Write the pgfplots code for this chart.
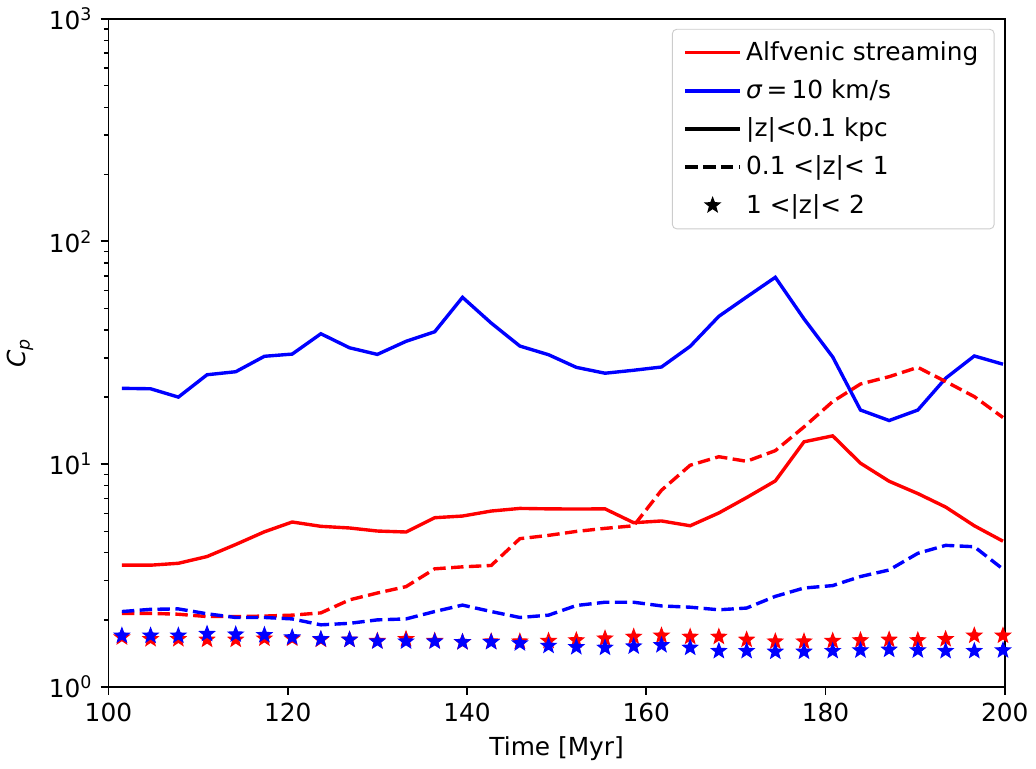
\documentclass[border=0pt]{standalone}
\usepackage{fontspec}
\setmainfont{DejaVu Sans}
\usepackage{pgfplots}
\usepackage{pgfplotstable}
\pgfplotsset{compat=1.18}

% filled five-pointed star, like matplotlib's '*'
\pgfdeclareplotmark{fstar}{%
  \pgfpathmoveto{\pgfqpointpolar{90}{\pgfplotmarksize}}%
  \pgfpathlineto{\pgfqpointpolar{126}{0.42\pgfplotmarksize}}%
  \pgfpathlineto{\pgfqpointpolar{162}{\pgfplotmarksize}}%
  \pgfpathlineto{\pgfqpointpolar{198}{0.42\pgfplotmarksize}}%
  \pgfpathlineto{\pgfqpointpolar{234}{\pgfplotmarksize}}%
  \pgfpathlineto{\pgfqpointpolar{270}{0.42\pgfplotmarksize}}%
  \pgfpathlineto{\pgfqpointpolar{306}{\pgfplotmarksize}}%
  \pgfpathlineto{\pgfqpointpolar{342}{0.42\pgfplotmarksize}}%
  \pgfpathlineto{\pgfqpointpolar{18}{\pgfplotmarksize}}%
  \pgfpathlineto{\pgfqpointpolar{54}{0.42\pgfplotmarksize}}%
  \pgfpathclose
  \pgfusepathqfillstroke}

% t, red solid, red dashed, red stars, blue solid, blue dashed, blue stars
\pgfplotstableread{
t     rs    rd    rst   bs    bd    bst
101.5 3.52  2.14  1.67  21.9  2.18  1.70
104.7 3.52  2.14  1.64  21.8  2.23  1.70
107.8 3.59  2.12  1.64  20.0  2.24  1.70
111.0 3.85  2.07  1.63  25.2  2.13  1.73
114.2 4.36  2.07  1.63  26.0  2.05  1.72
117.4 4.97  2.08  1.65  30.5  2.05  1.71
120.5 5.50  2.10  1.65  31.2  2.02  1.67
123.7 5.26  2.15  1.63  38.5  1.90  1.64
126.9 5.17  2.46  1.63  33.3  1.93  1.63
130.0 5.01  2.64  1.61  31.1  2.00  1.60
133.2 4.96  2.82  1.64  35.6  2.02  1.60
136.4 5.75  3.39  1.61  39.3  2.18  1.60
139.5 5.85  3.46  1.59  56.1  2.33  1.59
142.7 6.16  3.51  1.60  43.0  2.18  1.59
145.9 6.33  4.63  1.60  33.9  2.05  1.57
149.1 6.30  4.79  1.61  31.0  2.10  1.53
152.2 6.29  4.99  1.62  27.2  2.32  1.51
155.4 6.30  5.15  1.65  25.6  2.40  1.50
158.6 5.46  5.29  1.68  26.4  2.40  1.52
161.7 5.56  7.64  1.70  27.3  2.31  1.54
164.9 5.29  9.89  1.68  33.8  2.28  1.50
168.1 6.04  10.8  1.68  46.1  2.22  1.45
171.2 7.08  10.3  1.63  56.3  2.26  1.45
174.4 8.41  11.5  1.60  69.0  2.55  1.44
177.6 12.6  14.7  1.60  44.9  2.78  1.44
180.8 13.4  19.1  1.61  30.3  2.85  1.45
183.9 10.1  22.9  1.62  17.5  3.13  1.46
187.1 8.38  24.7  1.63  15.7  3.35  1.47
190.3 7.38  27.2  1.62  17.5  3.98  1.46
193.4 6.42  23.5  1.64  24.3  4.32  1.45
196.6 5.29  20.1  1.70  30.6  4.26  1.45
199.8 4.51  16.2  1.70  28.1  3.38  1.46
}\datatable

\begin{document}
\begin{tikzpicture}
\begin{axis}[
    scale only axis,
    width=397pt,
    height=296pt,
    ymode=log,
    xmin=100, xmax=200,
    ymin=1, ymax=1000,
    xtick={100,120,140,160,180,200},
    ytick={1,10,100,1000},
    yticklabels={10\textsuperscript{0},10\textsuperscript{1},10\textsuperscript{2},10\textsuperscript{3}},
    /pgf/number format/assume math mode=true,
    tick pos=left,
    tick align=outside,
    major tick length=3.5pt,
    minor tick length=2pt,
    every major tick/.style={black, line width=0.8pt},
    every minor tick/.style={black, line width=0.6pt},
    axis line style={line width=0.8pt},
    xlabel={Time [Myr]},
    ylabel={\textit{C}\textsubscript{\textit{p}}},
    tick label style={font=\fontsize{11}{13}\selectfont},
    label style={font=\fontsize{11}{13}\selectfont},
    legend style={
        at={(rel axis cs:1,1)}, anchor=north east,
        xshift=-4.5pt, yshift=-4.5pt,
        draw=black!20, rounded corners=2pt,
        font=\fontsize{11}{13}\selectfont,
        row sep=3pt, inner xsep=5pt, inner ysep=3.5pt,
        cells={anchor=west}
    },
    legend image code/.code={
        \draw[#1] (0cm,0cm) -- (0.85cm,0cm);
    },
    every axis plot/.append style={line width=1.5pt},
    dashpat/.style={dash pattern=on 5.5pt off 2.4pt},
]
\addplot[red, no marks, forget plot] table[x=t, y=rs] {\datatable};
\addplot[blue, no marks, forget plot] table[x=t, y=bs] {\datatable};
\addplot[red, no marks, dashpat, forget plot] table[x=t, y=rd] {\datatable};
\addplot[blue, no marks, dashpat, forget plot] table[x=t, y=bd] {\datatable};
\addplot[red, only marks, mark=fstar, mark size=3.4pt, line width=0.5pt, forget plot] table[x=t, y=rst] {\datatable};
\addplot[blue, only marks, mark=fstar, mark size=3.4pt, line width=0.5pt, forget plot] table[x=t, y=bst] {\datatable};

\addlegendimage{red, line width=1.5pt}
\addlegendentry{Alfvenic streaming}
\addlegendimage{blue, line width=1.5pt}
\addlegendentry{\textit{σ}\,=\,10 km/s}
\addlegendimage{black, line width=1.5pt}
\addlegendentry{|z|<0.1 kpc}
\addlegendimage{black, line width=1.5pt, dash pattern=on 5.5pt off 2.4pt}
\addlegendentry{0.1 <|z|< 1}
\addlegendimage{legend image code/.code={
    \draw[black, line width=0.5pt] plot[mark=fstar, mark size=3.4pt] coordinates {(0.425cm,0cm)};}}
\addlegendentry{1 <|z|< 2}
\end{axis}
\end{tikzpicture}
\end{document}
